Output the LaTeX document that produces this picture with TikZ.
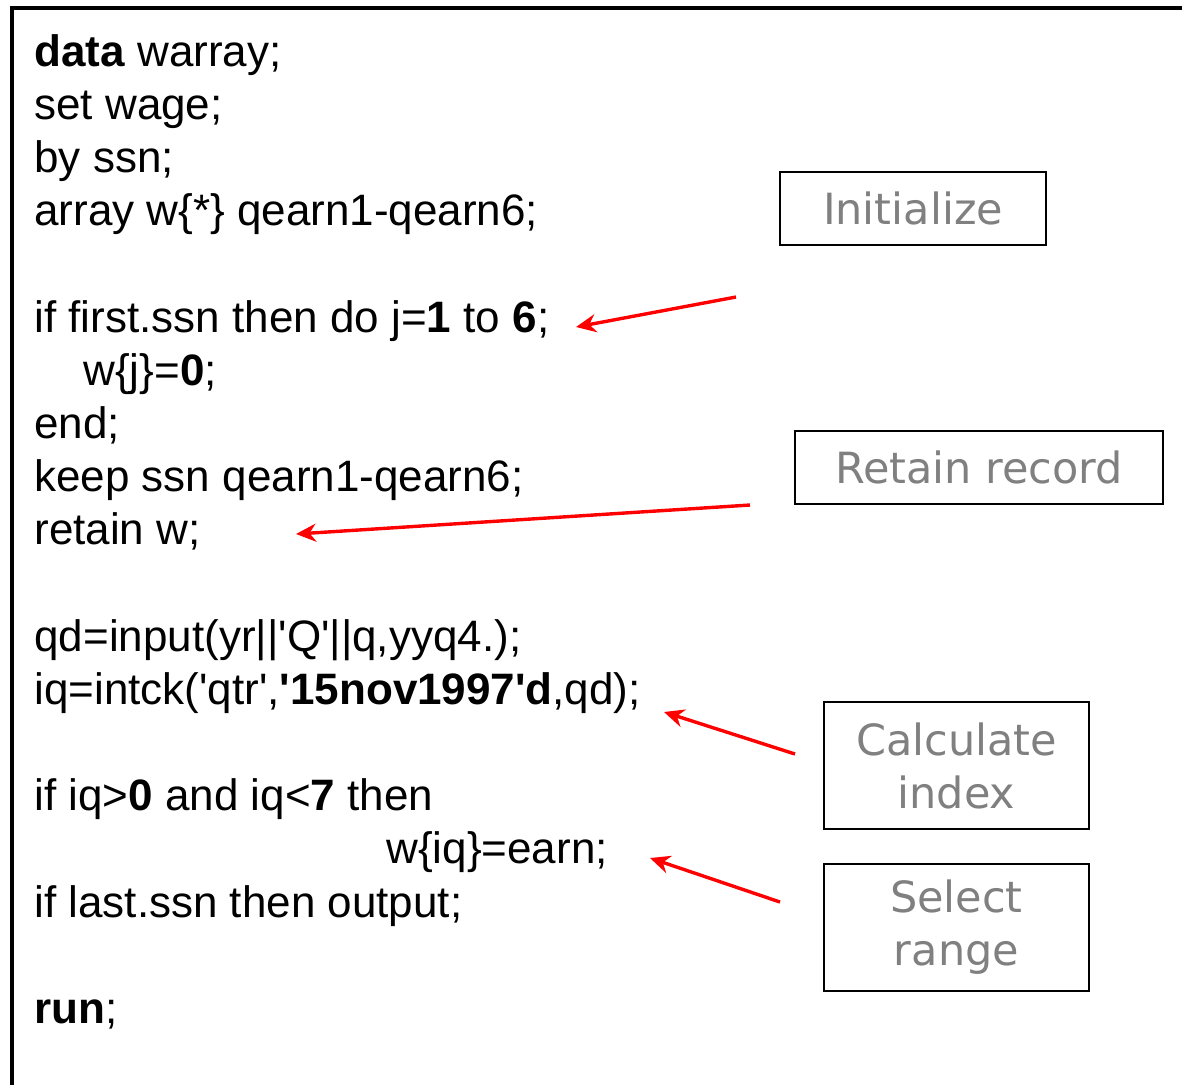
\documentclass[tikz,border=0pt]{standalone}
\usepackage{fontspec}
\setmainfont{Liberation Sans}
\newfontfamily\notefont{DejaVu Sans}
\usepackage{xcolor}
\usetikzlibrary{arrows.meta}

\definecolor{notegray}{RGB}{128,128,128}
\newcommand{\sq}{\textquotesingle}

\tikzset{
  codeline/.style={anchor=base west, inner sep=0pt, font=\fontsize{22}{26.6}\selectfont},
  notebox/.style={draw, line width=1.4pt, align=center, text=notegray, inner sep=0pt,
    font=\notefont\fontsize{21.5}{26.5}\selectfont},
  pointer/.style={draw=red, line width=1.7pt, -{Stealth[length=10pt,width=9pt]}}
}

\begin{document}
\begin{tikzpicture}[x=0.5pt,y=-0.5pt]
        \useasboundingbox (0,0) rectangle (1182,1084);

        % Frame round the code (open to the right and below)
        \draw [line width=2pt, line join=miter] (12,1090) -- (12,8) -- (1190,8);%

        % Code lines
        \node [codeline] (dataline) at (34,66) {\textbf{data} warray;};%
        \node [codeline] (setline) at (34,119) {set wage;};%
        \node [codeline] (byline) at (34,172) {by ssn;};%
        \node [codeline] (arrayline) at (34,225) {array w\{*\} qearn1-qearn6;};%
        \node [codeline] (doline) at (34,332) {if first.ssn then do j=\textbf{1} to \textbf{6};};%
        \node [codeline] (zeroline) at (83,385) {w\{j\}=\textbf{0};};%
        \node [codeline] (endline) at (34,438) {end;};%
        \node [codeline] (keepline) at (34,491) {keep ssn qearn1-qearn6;};%
        \node [codeline] (retainline) at (34,544) {retain w;};%
        \node [codeline] (qdline) at (34,651) {qd=input(yr||\sq Q\sq||q,yyq4.);};%
        \node [codeline] (iqline) at (34,704) {iq=intck(\sq qtr\sq,\textbf{\sq15nov1997\sq d},qd);};%
        \node [codeline] (ifline) at (34,810) {if iq>\textbf{0} and iq<\textbf{7} then};%
        \node [codeline] (earnline) at (386,863) {w\{iq\}=earn;};%
        \node [codeline] (lastline) at (34,917) {if last.ssn then output;};%
        \node [codeline] (runline) at (34,1023) {\textbf{run};};%

        % Note boxes
        \node [notebox, minimum width=133pt, minimum height=36.5pt] (initbox) at (913,208.5) {Initialize};%
        \node [notebox, minimum width=184pt, minimum height=36.5pt] (retainbox) at (979,467.5) {Retain record};%
        \node [notebox, minimum width=132.5pt, minimum height=63.5pt] (calcbox) at (956.5,765.5) {Calculate\\index};%
        \node [notebox, minimum width=132.5pt, minimum height=63.5pt] (selectbox) at (956.5,927.5) {Select\\range};%

        % Arrow ends
        \coordinate (initTail) at (736,297);%
        \coordinate (initTip) at (576,327);%
        \coordinate (retainTail) at (750,505);%
        \coordinate (retainTip) at (296,534);%
        \coordinate (calcTail) at (795,754);%
        \coordinate (calcTip) at (664,712);%
        \coordinate (selectTail) at (780,902);%
        \coordinate (selectTip) at (650,858);%

        % Red pointers
        \draw [pointer] (initTail) -- (initTip);%
        \draw [pointer] (retainTail) -- (retainTip);%
        \draw [pointer] (calcTail) -- (calcTip);%
        \draw [pointer] (selectTail) -- (selectTip);%
    \end{tikzpicture}
\end{document}
